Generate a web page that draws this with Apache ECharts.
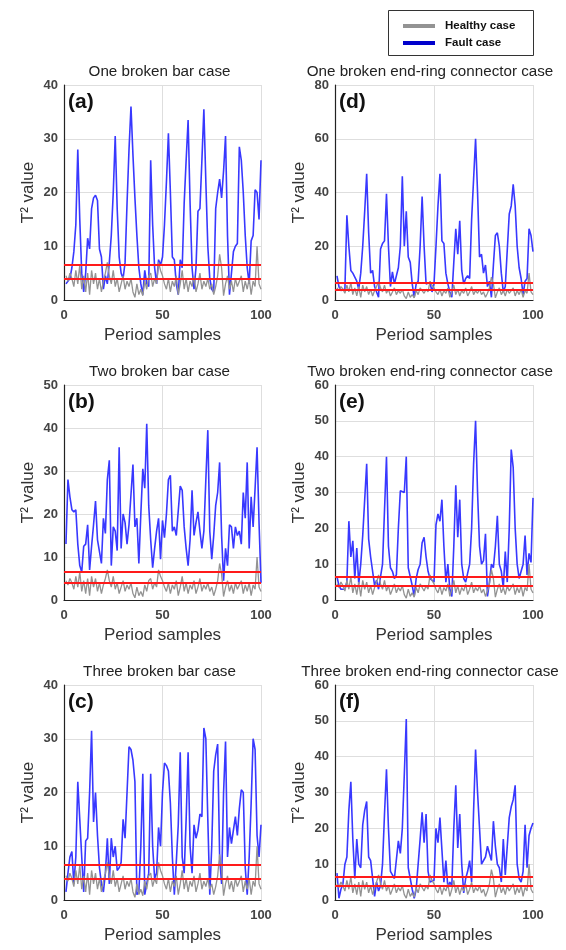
<!DOCTYPE html>
<html><head><meta charset="utf-8">
<script src="https://cdn.jsdelivr.net/npm/echarts@6/dist/echarts.min.js"></script>
<style>html,body{margin:0;padding:0;background:#fff}#c{width:566px;height:950px}</style>
</head><body><div id="c"></div>
<script>
const healthy = [4.5,3.5,5,4,2.5,5.5,3,6.5,2,4.5,1.5,5,1,5.5,3,5,2,4,1.5,3.5,5,7,4.5,3,5.5,2.5,4,1.5,3,4.5,2,3.5,2.5,4,1.5,0.5,3,1,2,0.8,3.5,2,4.5,5,2.5,4,3,7,5.5,4.5,3,2,4,1.5,3.5,2.5,4.5,1,3,5.5,2,4,1.5,3.5,2.5,4.5,1.5,3,5,2,3.5,2.5,4,2,3,1,2.5,4.5,8.5,6,0.8,3,4.5,2,3.5,1.5,4,2.5,3.5,4.5,1.5,3.5,2,4,1,3.5,2.5,10,3,2];
const faultA = [3,3,4,6,9,14,28,15,5,1.5,5,11.5,9.5,17,19,19.5,18.5,9.5,8,2,4.5,3,7,12,20,30.5,17,8,5,4,7,18,28,36,27,19,12,6,3,1,5.5,3,2.5,26,14,6,3,7.5,6.5,8,14,22,31,20,8,7.5,3,1,7.5,6,18,26,33.5,18,6,2,6,16.5,17,26,35.5,22,10,4,2,1.5,17,20,22.5,19,24,30.5,12,1,5,9,10,10.5,28.5,26,20,12,6,3,11,12,20.5,20,15,26];
const faultB = [13,28,24,21,20.5,21,13,8,6.5,12.5,13,17.5,7,12.5,17.5,23,14,14,8.5,19,15.5,28,32.5,8,17,16,11.5,35.5,12,20,18,13,17.5,17.5,31.5,17,19,8.5,20,30.5,26,41,22,14,7.5,12,16,19,9.5,18.5,14.5,20,28,29,16,17,15,15,26.5,25.5,17,12,8,14,25.5,15,18,20.5,16,12,16,28,39.5,16,9.5,15,22,25,32,15,4.5,12,8,17.5,17,12,17,15,16,13,25,19,32,12,24,17,26,35.5,18,4];
const faultC = [1.5,5,8,9,3,8,22,15,8,1.5,11,11.5,20,31.5,14.5,20,12,6,3,1.5,5,11.5,3,11.5,8,10,5.5,6,7,15,11.5,20,28.5,28,26,22,1,1.5,10,23.5,1,3,5,23.5,10,4,5,13.5,10,20,25.5,25,24,18,8,1,7,14,27.5,8,5,15,27.5,10,5,14,11.5,13,16,15.5,32,30,15,1,10,24,27,29,8,3,20,29.5,8,13.5,10.5,13,15.5,12,17,20.5,20,6,1,8,18,30,28,12,8,14];
const faultD = [9,5,3.5,3,4,31.5,20,11,10,10,7,4,10,20,33,47,25,10,11,5,3,1,19,21,22,39.5,20,5,10.5,6,6,12,20,46,20,33,16,14,6,1,6,7,20,38.5,20,6,6,6.5,3,6,20,35,47,22,21,10,6,3,1,14,26.5,17,29.5,11,6,8,9,8,30,45,60,40,16,17,10,13,5,7,1,13,24,25,20,10,3,5,5,32,35,43,35,20,12,8,2,7,8,26.5,24,18];
const faultE = [6.5,4,3,2.5,3,5,22,12,16.5,6,14.5,4.5,10,18,28,38,17,12,12,4,5.5,3,3.5,10,25,40,15,9,8,6,7,20,30.5,30,30,40,9,8.5,4,1,6,8.5,10,16,17.5,12,8,6,5.5,5,21,24,22,28,15,5,10,3,1,15,32,17.5,28,10,6,5,5,10,20,38,50,30,15,10,11,18.5,1,5,10,9,15,23.5,10,8,3.5,13.5,5,20,42,37,20,10,6,8,10,18,7,13,10.5,28.5];
const faultF = [7.5,0.5,3,4.5,10,12,25,33,17,6,17,10,9,21,25,27.5,12,11,11,1,5,2.5,4,10,24,36.5,20,8,7,6,5.5,16.5,13,20,35,50.5,9,9.5,3,0.5,3,10,17,24.5,16,24,8,5,5,5.5,20,16,23,14,5,11,3.5,5,4,20,32,14.5,24,10,2,6,8,11,5,25,42,30,20,10,10,12,15,13,11,22,15,10,9,5,17,7,15,23,26,28,32,10,6,5,8,21,9,18,20,21.5];
const thresholds = [6.5, 3.9];
const panelTitles = ["One broken bar case","Two broken bar case","Three broken bar case","One broken end-ring connector case","Two broken end-ring connector case","Three broken end-ring connector case"];
const panelLabels = ["(a)","(b)","(c)","(d)","(e)","(f)"];
const yMax = [40,50,40,80,60,60];
const yStep = [10,10,10,20,10,10];
const xMax = 100, xStep = 50;
const faults = [faultA,faultB,faultC,faultD,faultE,faultF];
const xName = "Period samples", yName = "T\u00B2 value";
const legendNames = ["Healthy case","Fault case"];

const colLeft = [64, 335], colWidth = [197, 198], rowTop = [85, 385, 685], gridH = 215;
const titleShift = [-3, -4];
const FONT = "Liberation Sans, Arial, sans-serif";
const BLUE = "#3838ff", GRAY = "#939393", RED = "#ff1a1a";

const grids = [], xAxes = [], yAxes = [], series = [], titles = [], graphics = [];
for (let p = 0; p < 6; p++) {
  const col = p < 3 ? 0 : 1, row = p % 3;
  const L = colLeft[col], W = colWidth[col], T = rowTop[row];
  grids.push({left: L, top: T, width: W, height: gridH, containLabel: false});
  xAxes.push({gridIndex: p, type: 'value', min: 0, max: xMax, interval: xStep,
    name: xName, nameLocation: 'middle', nameGap: 27,
    nameTextStyle: {fontFamily: FONT, fontSize: 17, color: '#333'},
    axisLine: {show: true, onZero: false, lineStyle: {color: '#222', width: 1.2}},
    axisTick: {show: false},
    axisLabel: {fontFamily: FONT, fontSize: 13, color: '#444', fontWeight: 'bold', margin: 9},
    splitLine: {show: true, lineStyle: {color: '#dedede', width: 1}}});
  yAxes.push({gridIndex: p, type: 'value', min: 0, max: yMax[p], interval: yStep[p],
    name: yName, nameLocation: 'middle', nameGap: 27, nameRotate: 90,
    nameTextStyle: {fontFamily: FONT, fontSize: 17, color: '#333'},
    axisLine: {show: true, lineStyle: {color: '#222', width: 1.2}},
    axisTick: {show: false},
    axisLabel: {fontFamily: FONT, fontSize: 13, color: '#444', fontWeight: 'bold', margin: 6},
    splitLine: {show: true, lineStyle: {color: '#dedede', width: 1}}});
  series.push({name: legendNames[1], type: 'line', xAxisIndex: p, yAxisIndex: p,
    data: faults[p].map((v, i) => [i + 1, v]), showSymbol: false, symbol: 'none',
    lineStyle: {color: BLUE, width: 1.6}, itemStyle: {color: BLUE}, z: 2});
  series.push({name: legendNames[0], type: 'line', xAxisIndex: p, yAxisIndex: p,
    data: healthy.map((v, i) => [i + 1, v]), showSymbol: false, symbol: 'none',
    lineStyle: {color: GRAY, width: 1.3}, itemStyle: {color: GRAY}, z: 3,
    markLine: {silent: true, symbol: 'none', label: {show: false},
      lineStyle: {color: RED, width: 2, type: 'solid'},
      data: thresholds.map(t => ({yAxis: t}))}});
  titles.push({text: panelTitles[p], left: L + W / 2 + titleShift[col], top: T - 21, textAlign: 'center', padding: 0,
    textStyle: {fontFamily: FONT, fontSize: 15.2, fontWeight: 'normal', color: '#222'}});
  graphics.push({type: 'text', left: L + 4, top: T + 7,
    style: {text: panelLabels[p], font: 'bold 21px ' + FONT, fill: '#111'}});
}
graphics.push({type: 'rect', left: 388, top: 10, shape: {width: 145, height: 45},
  style: {fill: '#fff', stroke: '#333', lineWidth: 1}, z: 0});

const chart = echarts.init(document.getElementById('c'), null, {renderer: 'canvas'});
chart.setOption({
  animation: false,
  backgroundColor: '#fff',
  title: titles,
  grid: grids, xAxis: xAxes, yAxis: yAxes, series: series,
  graphic: graphics,
  legend: {orient: 'vertical', left: 403, top: 20, itemGap: 5, itemWidth: 32, itemHeight: 4,
    icon: 'rect', padding: 0,
    textStyle: {fontFamily: FONT, fontSize: 11.5, fontWeight: 'bold', color: '#111', padding: [0,0,0,5]},
    data: [{name: legendNames[0], itemStyle: {color: GRAY}}, {name: legendNames[1], itemStyle: {color: '#0000cc'}}]}
});
</script></body></html>
